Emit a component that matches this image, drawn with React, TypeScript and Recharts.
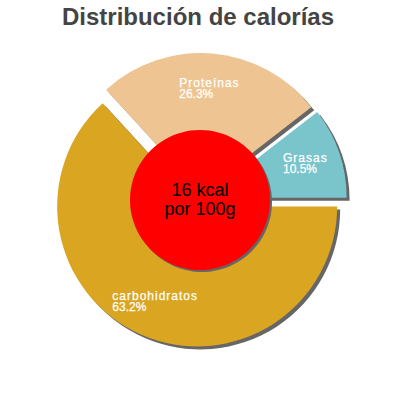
import { PieChart, Pie, Cell } from 'recharts';

// slice data (percent of calories)
const categories = ['Grasas', 'Proteínas', 'carbohidratos'];
const percents = [10.5, 26.3, 63.2];
const sliceColors = ['#7ac4cc', '#eec592', '#daa520'];
const centerLines = ['16 kcal', 'por 100g'];
const title = 'Distribución de calorías';

const W = 400;
const H = 400;
const CX = 200;
const CY = 200;
const R = 140;
const EXPLODE = 7;
const SHADOW = 3;
const RADIAN = Math.PI / 180;
const FONT = '"Liberation Sans", Arial, sans-serif';

const data = categories.map((name, i) => ({ name, value: percents[i] }));
const total = percents.reduce((a, b) => a + b, 0);
let acc = 0;
const midAngles = percents.map((p) => {
  const start = acc;
  acc += p;
  return ((start + p / 2) / total) * 360;
});

const textWidth = (s: string, spacing: number) => {
  const ctx = document.createElement('canvas').getContext('2d');
  if (!ctx) return s.length * 7;
  ctx.font = `12px ${FONT}`;
  return ctx.measureText(s).width + spacing * s.length;
};

const makeLabel = (target: number) => (props: any) => {
  const { cx, cy, midAngle, outerRadius, index, name, percent } = props;
  if (index !== target) return null;
  const r = outerRadius * 0.745;
  const ax = cx + r * Math.cos(-midAngle * RADIAN);
  const ay = cy + r * Math.sin(-midAngle * RADIAN);
  const pct = `${(percent * 100).toFixed(1)}%`;
  const w = Math.max(textWidth(name, 1), textWidth(pct, 0));
  const x = ax - w / 2;
  return (
    <text x={x} y={ay} fill="#fff" stroke="#fff" strokeWidth={0.25} fontSize={12} fontFamily={FONT} textAnchor="start">
      <tspan x={x} y={ay - 2.3} letterSpacing={1}>{name}</tspan>
      <tspan x={x} y={ay + 9}>{pct}</tspan>
    </text>
  );
};

const centerLabel = (props: any) => {
  const { cx, cy } = props;
  return (
    <text x={cx} y={cy} fill="#000" fontSize={18} fontFamily={FONT} textAnchor="middle">
      <tspan x={cx} y={cy - 4}>{centerLines[0]}</tspan>
      <tspan x={cx} y={cy + 15}>{centerLines[1]}</tspan>
    </text>
  );
};

const offsetOf = (i: number) => ({
  dx: EXPLODE * Math.cos(midAngles[i] * RADIAN),
  dy: -EXPLODE * Math.sin(midAngles[i] * RADIAN),
});

export default function App() {
  return (
    <div style={{ position: 'relative', width: W, height: H, background: '#fff' }}>
      <style>{'body{margin:0}'}</style>
      <div
        style={{
          position: 'absolute',
          top: 5,
          left: 0,
          width: W - 4,
          textAlign: 'center',
          fontFamily: FONT,
          fontWeight: 'bold',
          fontSize: 24,
          lineHeight: '24px',
          color: '#444',
        }}
      >
        {title}
      </div>
      <PieChart
        width={W}
        height={H}
        margin={{ top: 0, right: 0, bottom: 0, left: 0 }}
        style={{ position: 'absolute', top: 0, left: 0 }}
      >
        {/* shadows */}
        {categories.map((_, i) => {
          const { dx, dy } = offsetOf(i);
          return (
            <Pie
              key={`shadow-${i}`}
              data={data}
              dataKey="value"
              cx={CX + dx + SHADOW}
              cy={CY + dy + SHADOW}
              outerRadius={R}
              stroke="none"
              isAnimationActive={false}
            >
              {data.map((_, j) => (
                <Cell key={`s-${j}`} fill={j === i ? '#666' : 'none'} />
              ))}
            </Pie>
          );
        })}
        {/* exploded slices */}
        {categories.map((_, i) => {
          const { dx, dy } = offsetOf(i);
          return (
            <Pie
              key={`slice-${i}`}
              data={data}
              dataKey="value"
              cx={CX + dx}
              cy={CY + dy}
              outerRadius={R}
              stroke="none"
              label={makeLabel(i)}
              labelLine={false}
              isAnimationActive={false}
            >
              {data.map((_, j) => (
                <Cell key={`c-${j}`} fill={j === i ? sliceColors[j] : 'none'} />
              ))}
            </Pie>
          );
        })}
        {/* red center disc */}
        <Pie
          data={[{ name: 'shadow', value: 1 }]}
          dataKey="value"
          cx={CX + 2}
          cy={CY + 2}
          outerRadius={70}
          fill="#666"
          stroke="none"
          isAnimationActive={false}
        />
        <Pie
          data={[{ name: 'kcal', value: 1 }]}
          dataKey="value"
          cx={CX}
          cy={CY}
          outerRadius={70}
          fill="#ff0000"
          stroke="none"
          label={centerLabel}
          labelLine={false}
          isAnimationActive={false}
        />
      </PieChart>
    </div>
  );
}
